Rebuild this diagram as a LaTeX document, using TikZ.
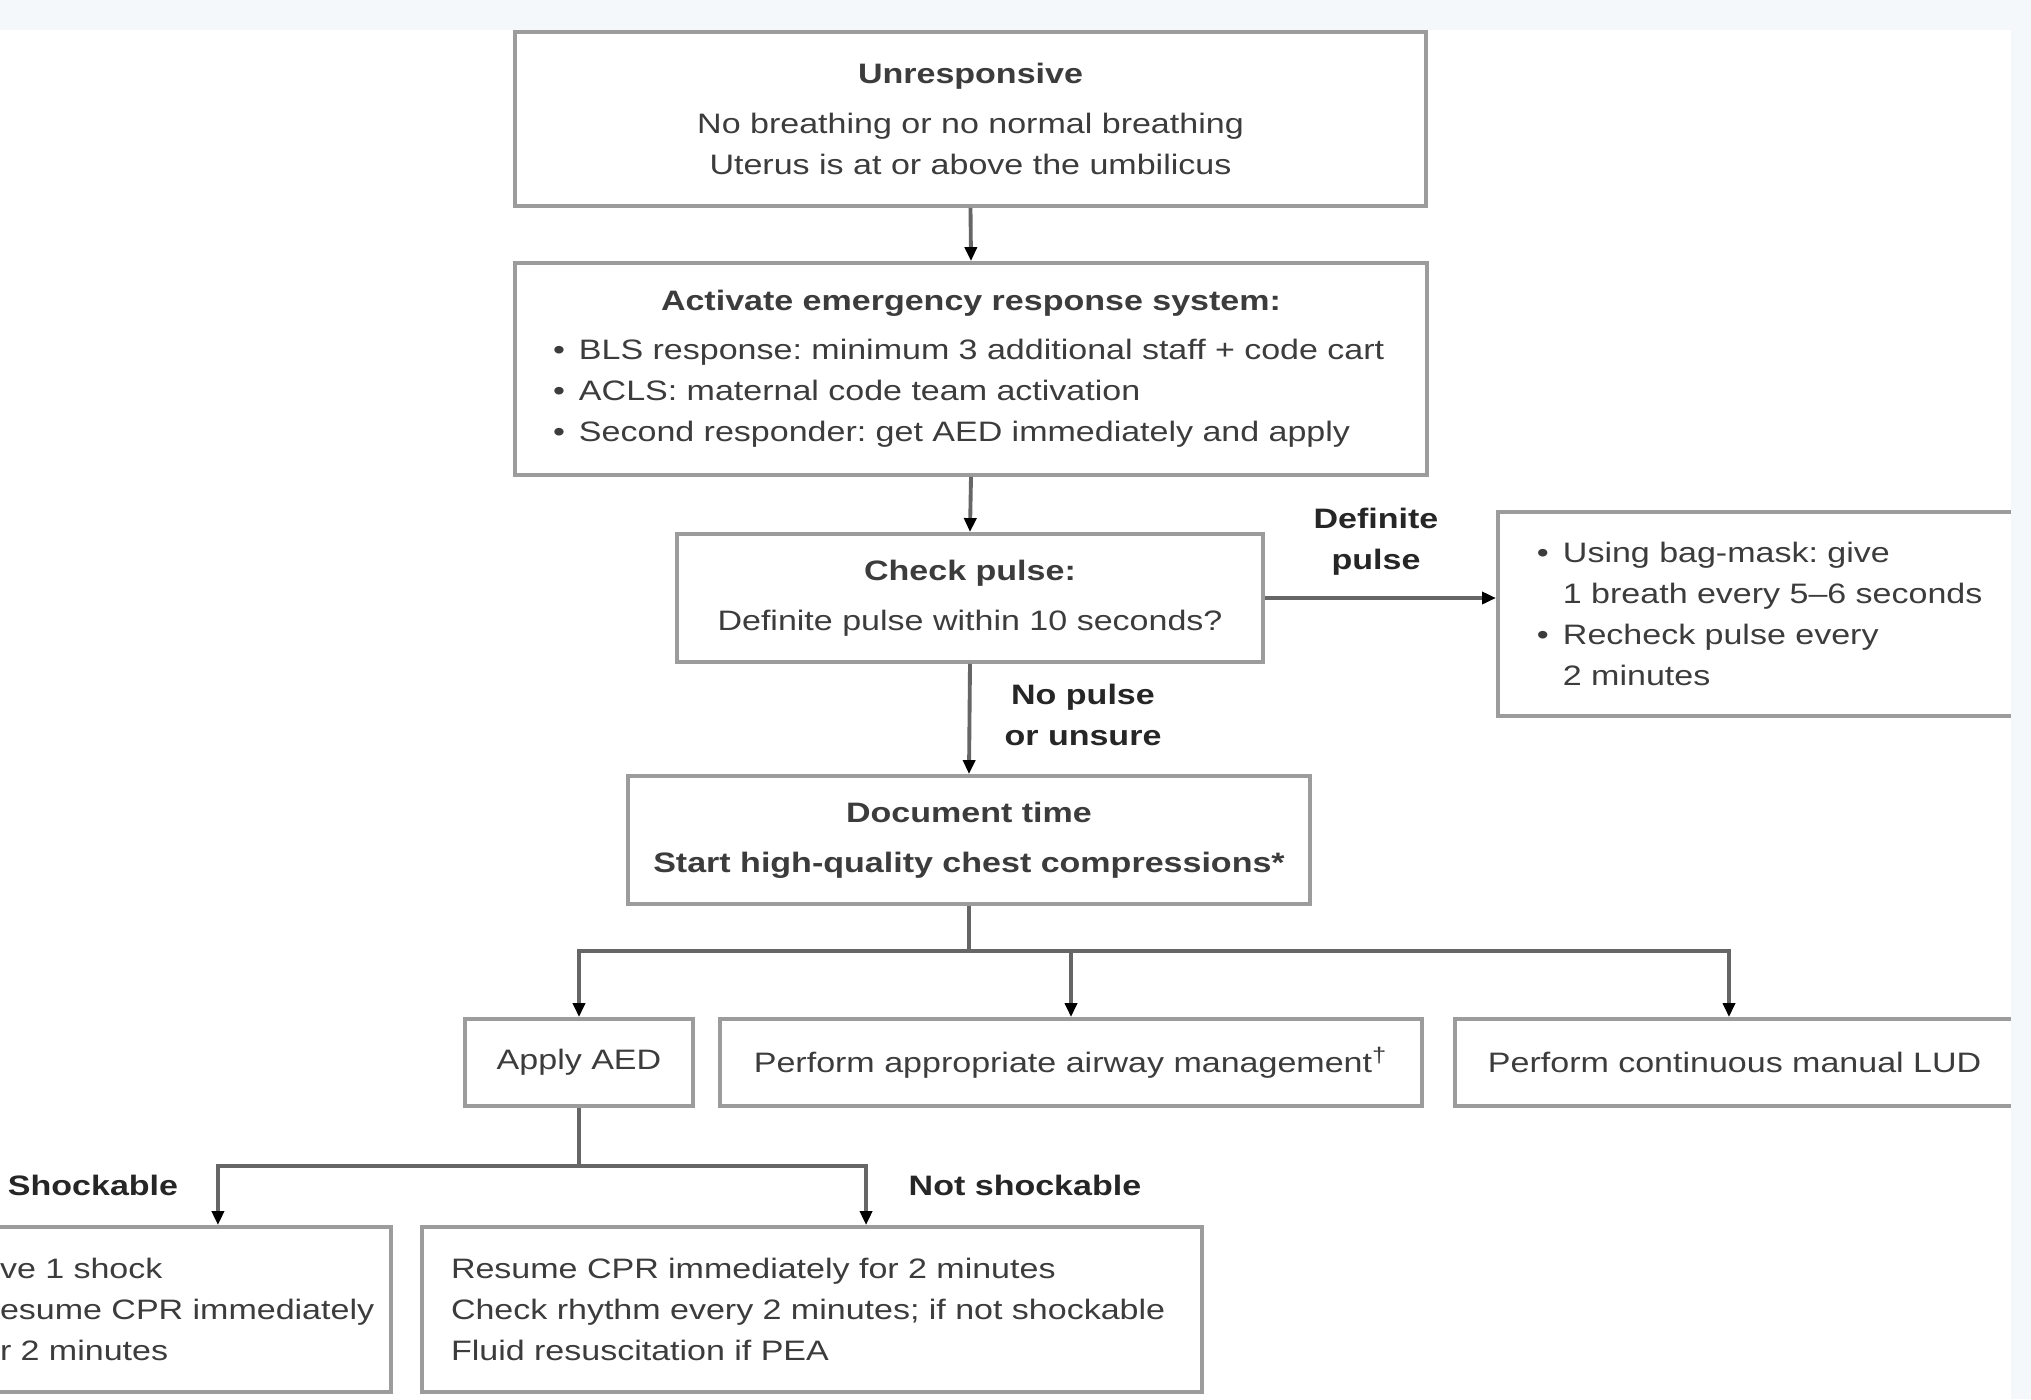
\documentclass[tikz,border=0pt]{standalone}
\usepackage{fontspec}
\setmainfont{Liberation Sans}[FakeStretch=1.21]
\usetikzlibrary{arrows.meta}
\definecolor{boxgray}{HTML}{9C9C9C}
\definecolor{linegray}{HTML}{666666}
\definecolor{txtgray}{HTML}{3C3C3C}
\definecolor{bandblue}{HTML}{F4F8FB}
\frenchspacing

\begin{document}
\begin{tikzpicture}[
	box/.style={rectangle, draw=boxgray, line width=1.1pt, fill=white, inner sep=0pt, text=txtgray, font=\fontsize{8}{11.7}\selectfont},
	lbl/.style={inner sep=0pt, align=center, text=black!85, font=\fontsize{8}{11.7}\selectfont\bfseries},
	link/.style={draw=linegray, line width=1.1pt},
	arr/.style={link, -{Triangle[length=1.4mm, width=1.2mm, color=black]}}
	]
		\clip (0,0) rectangle (20.31,-13.99);
		\fill [bandblue] (0,0) rectangle (20.31,-13.99);
		\fill [white] (0,-0.30) rectangle (20.11,-13.99);
		
		\node (unresp) [box, minimum width=9.11cm, minimum height=1.74cm, align=center] at (9.705,-1.19) {\textbf{Unresponsive}\\[2.7pt]No breathing or no normal breathing\\Uterus is at or above the umbilicus};
		
		\node (activate) [box, minimum width=9.12cm, minimum height=2.12cm, text width=8.36cm, inner xsep=0.38cm, align=left] at (9.71,-3.69) {\makebox[8.36cm][c]{\textbf{Activate emergency response system:}}\\[2.1pt]\makebox[7.4pt][l]{\textbullet}BLS response: minimum 3 additional staff + code cart\\\makebox[7.4pt][l]{\textbullet}ACLS: maternal code team activation\\\makebox[7.4pt][l]{\textbullet}Second responder: get AED immediately and apply};
		
		\node (check) [box, minimum width=5.86cm, minimum height=1.28cm, align=center] at (9.70,-5.98) {\textbf{Check pulse:}\\[2.4pt]Definite pulse within 10 seconds?};
		
		\node (breaths) [box, anchor=west, minimum height=2.04cm, text width=4.80cm, inner xsep=0.39cm, align=left] at (14.96,-6.14) {\makebox[7.4pt][l]{\textbullet}Using bag-mask: give\\\hspace*{7.4pt}1 breath every 5--6 seconds\\\makebox[7.4pt][l]{\textbullet}Recheck pulse every\\\hspace*{7.4pt}2 minutes};
		
		\node (doctime) [box, minimum width=6.82cm, minimum height=1.28cm, align=center] at (9.69,-8.40) {\textbf{Document time}\\[2.4pt]\textbf{Start high-quality chest compressions*}};
		
		\node (aed) [box, minimum width=2.28cm, minimum height=0.87cm] at (5.79,-10.625) {Apply AED};
		
		\node (airway) [box, minimum width=7.02cm, minimum height=0.87cm] at (10.71,-10.625) {Perform appropriate airway management\textsuperscript{\textdagger}};
		
		\node (lud) [box, anchor=west, minimum height=0.87cm, text width=5.30cm, inner xsep=0.33cm, align=left] at (14.53,-10.625) {Perform continuous manual LUD};
		
		\node (shock) [box, minimum width=4.06cm, minimum height=1.65cm, text width=3.76cm, inner xsep=0.15cm, align=left] at (1.88,-13.095) {ve 1 shock\\esume CPR immediately\\r 2 minutes};
		
		\node (cpr) [box, minimum width=7.80cm, minimum height=1.65cm, text width=7.22cm, inner xsep=0.29cm, align=left] at (8.12,-13.095) {Resume CPR immediately for 2 minutes\\Check rhythm every 2 minutes; if not shockable\\Fluid resuscitation if PEA};
		
		\node (lbldefinite) [lbl] at (13.76,-5.415) {Definite\\pulse};
		\node (lblnopulse) [lbl] at (10.83,-7.15) {No pulse\\or unsure};
		\node (lblshock) [lbl] at (0.93,-11.85) {Shockable};
		\node (lblnotshock) [lbl] at (10.25,-11.85) {Not shockable};
		
		\draw [arr] (unresp.south) -- (activate.north);
		\draw [arr] (activate.south) -- (check.north);
		\draw [arr] (check.east) -- (check.east -| breaths.west);
		\draw [arr] (check.south) -- (doctime.north);
		
		\coordinate (split1) at ([yshift=-0.45cm]doctime.south);
		\draw [link] (doctime.south) -- (split1);
		\draw [arr] (split1) -| (aed.north);
		\draw [arr] (split1) -| (airway.north);
		\draw [arr] (split1) -| ([xshift=2.76cm]lud.north west);
		
		\coordinate (split2) at ([yshift=-0.58cm]aed.south);
		\draw [link] (aed.south) -- (split2);
		\draw [arr] (split2) -| ([xshift=-1.75cm]shock.north east);
		\draw [arr] (split2) -| ([xshift=4.46cm]cpr.north west);
		
		\fill [bandblue] (0,0) rectangle (20.31,-0.30);
		\fill [bandblue] (20.11,0) rectangle (20.31,-13.99);
		
\end{tikzpicture}
\end{document}
